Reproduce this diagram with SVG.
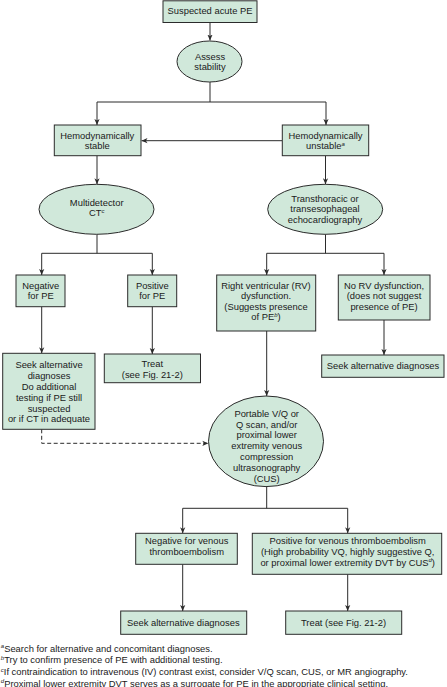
<svg xmlns="http://www.w3.org/2000/svg" width="447" height="687" viewBox="0 0 447 687">
<style>
.n{fill:#d0e8da;stroke:#2b2b2b;stroke-width:1}
text{font-family:"Liberation Sans",Arial,sans-serif;font-size:9.4px;fill:#1a1a1a}
.c{text-anchor:middle}
.s{font-size:6px;font-style:italic}
.e{fill:none;stroke:#2b2b2b;stroke-width:1}
.d{stroke-dasharray:4 2.5}
</style>
<defs>
<marker id="ah" markerWidth="6" markerHeight="6" viewBox="0 0 6 6" refX="6" refY="3" orient="auto" markerUnits="userSpaceOnUse">
<path d="M0,0.4 L6,3 L0,5.6 L1.6,3 Z" fill="#2b2b2b"/>
</marker>
</defs>
<rect width="447" height="687" fill="#fff"/>
<g id="connectors">
<path class="e" d="M210,22.5 V40.5" marker-end="url(#ah)"/>
<path class="e" d="M210,82 V102 M97,102 H326"/>
<path class="e" d="M97,102 V125" marker-end="url(#ah)"/>
<path class="e" d="M326,102 V125" marker-end="url(#ah)"/>
<path class="e" d="M282,140.7 H141.5" marker-end="url(#ah)"/>
<path class="e" d="M97,155.7 V184.3" marker-end="url(#ah)"/>
<path class="e" d="M325.5,155.7 V184.3" marker-end="url(#ah)"/>
<path class="e" d="M97,234.3 V253.3 M41.7,253.3 H152.3"/>
<path class="e" d="M41.7,253.3 V275" marker-end="url(#ah)"/>
<path class="e" d="M152.3,253.3 V275" marker-end="url(#ah)"/>
<path class="e" d="M325.5,234.3 V253.3 M266.7,253.3 H384"/>
<path class="e" d="M266.7,253.3 V275" marker-end="url(#ah)"/>
<path class="e" d="M384,253.3 V275" marker-end="url(#ah)"/>
<path class="e" d="M41.7,306.7 V353.3" marker-end="url(#ah)"/>
<path class="e" d="M152.3,306.7 V354" marker-end="url(#ah)"/>
<path class="e" d="M266.7,331 V396" marker-end="url(#ah)"/>
<path class="e" d="M384,320 V355" marker-end="url(#ah)"/>
<path class="e d" d="M41.7,429.3 V443.3 H208.3" marker-end="url(#ah)"/>
<path class="e" d="M266.7,486.7 V508.3 M182.7,508.3 H347.7"/>
<path class="e" d="M182.7,508.3 V533.3" marker-end="url(#ah)"/>
<path class="e" d="M347.7,508.3 V533.3" marker-end="url(#ah)"/>
<path class="e" d="M182.7,564.3 V611" marker-end="url(#ah)"/>
<path class="e" d="M347.7,574.3 V611" marker-end="url(#ah)"/>
</g>
<g id="n-suspected">
<rect class="n" x="163" y="0.8" width="94" height="21.7"/>
<text class="c" x="210" y="14.2">Suspected acute PE</text>
</g>
<g id="n-assess">
<ellipse class="n" cx="209.5" cy="61.5" rx="32.5" ry="20.5"/>
<text class="c" x="210" y="59.5">Assess</text>
<text class="c" x="210" y="70.1">stability</text>
</g>
<g id="n-stable">
<rect class="n" x="54.3" y="125" width="86.7" height="30.7"/>
<text class="c" x="97.3" y="138.5">Hemodynamically</text>
<text class="c" x="97.3" y="149.1">stable</text>
</g>
<g id="n-unstable">
<rect class="n" x="282.3" y="125" width="86.4" height="30.7"/>
<text class="c" x="325.5" y="138.5">Hemodynamically</text>
<text class="c" x="325.5" y="149.1">unstable<tspan class="s" dy="-3.5">a</tspan></text>
</g>
<g id="n-ct">
<ellipse class="n" cx="96.5" cy="209.3" rx="57.5" ry="25"/>
<text class="c" x="96.7" y="206">Multidetector</text>
<text class="c" x="96.7" y="216.4">CT<tspan class="s" dy="-3.5">c</tspan></text>
</g>
<g id="n-echo">
<ellipse class="n" cx="325.2" cy="209.3" rx="57.5" ry="25"/>
<text class="c" x="325" y="201.7">Transthoracic or</text>
<text class="c" x="325" y="212.2">transesophageal</text>
<text class="c" x="325" y="222.7">echocardiography</text>
</g>
<g id="n-negpe">
<rect class="n" x="16" y="275" width="49" height="31.7"/>
<text class="c" x="40.7" y="288.5">Negative</text>
<text class="c" x="40.7" y="299.1">for PE</text>
</g>
<g id="n-pospe">
<rect class="n" x="127.7" y="275" width="49" height="31.7"/>
<text class="c" x="152.3" y="288.5">Positive</text>
<text class="c" x="152.3" y="299.1">for PE</text>
</g>
<g id="n-rv">
<rect class="n" x="216.7" y="275" width="99" height="56"/>
<text class="c" x="266" y="288.5">Right ventricular (RV)</text>
<text class="c" x="266" y="299.1">dysfunction.</text>
<text class="c" x="266" y="309.7">(Suggests presence</text>
<text class="c" x="266" y="320.3">of PE<tspan class="s" dy="-3.5">b</tspan><tspan dy="3.5">)</tspan></text>
</g>
<g id="n-norv">
<rect class="n" x="338.3" y="275" width="91.7" height="45"/>
<text class="c" x="384" y="288.5">No RV dysfunction,</text>
<text class="c" x="384" y="299.1">(does not suggest</text>
<text class="c" x="384" y="309.7">presence of PE)</text>
</g>
<g id="n-seek1">
<rect class="n" x="2.7" y="353.3" width="92.3" height="76"/>
<text class="c" x="49" y="367.7">Seek alternative</text>
<text class="c" x="49" y="378.5">diagnoses</text>
<text class="c" x="49" y="389.6">Do additional</text>
<text class="c" x="49" y="400.6">testing if PE still</text>
<text class="c" x="49" y="411.5">suspected</text>
<text class="c" x="49" y="422.4">or if CT in adequate</text>
</g>
<g id="n-treat1">
<rect class="n" x="104.3" y="354" width="96.2" height="28.7"/>
<text class="c" x="152.3" y="367.4">Treat</text>
<text class="c" x="152.3" y="378">(see Fig. 21-2)</text>
</g>
<g id="n-seek2">
<rect class="n" x="321.7" y="355" width="122.3" height="22.3"/>
<text class="c" x="383" y="369.4">Seek alternative diagnoses</text>
</g>
<g id="n-vq">
<ellipse class="n" cx="266" cy="441.3" rx="57.5" ry="45.3"/>
<text class="c" x="266.7" y="416.7">Portable V/Q or</text>
<text class="c" x="266.7" y="427.6">Q scan, and/or</text>
<text class="c" x="266.7" y="438.4">proximal lower</text>
<text class="c" x="266.7" y="449.2">extremity venous</text>
<text class="c" x="266.7" y="460.1">compression</text>
<text class="c" x="266.7" y="471">ultrasonography</text>
<text class="c" x="266.7" y="481.8">(CUS)</text>
</g>
<g id="n-negvte">
<rect class="n" x="135.7" y="533.3" width="101.6" height="31"/>
<text class="c" x="186.7" y="544.4">Negative for venous</text>
<text class="c" x="186.7" y="555">thromboembolism</text>
</g>
<g id="n-posvte">
<rect class="n" x="252.3" y="533.3" width="189.4" height="41"/>
<text class="c" x="347.7" y="544.4">Positive for venous thromboembolism</text>
<text class="c" x="347.7" y="555">(High probability VQ, highly suggestive Q,</text>
<text class="c" x="347.7" y="565.6">or proximal lower extremity DVT by CUS<tspan class="s" dy="-3.5">d</tspan><tspan dy="3.5">)</tspan></text>
</g>
<g id="n-seek3">
<rect class="n" x="120.7" y="611" width="126" height="23.3"/>
<text class="c" x="183.3" y="625.7">Seek alternative diagnoses</text>
</g>
<g id="n-treat2">
<rect class="n" x="285.7" y="611" width="116" height="23.3"/>
<text class="c" x="343.5" y="625.7">Treat (see Fig. 21-2)</text>
</g>
<g id="footnotes">
<text x="0.8" y="651.6"><tspan class="s" dy="-3.5">a</tspan><tspan dy="3.5">Search for alternative and concomitant diagnoses.</tspan></text>
<text x="0.8" y="663.3"><tspan class="s" dy="-3.5">b</tspan><tspan dy="3.5">Try to confirm presence of PE with additional testing.</tspan></text>
<text x="0.8" y="675"><tspan class="s" dy="-3.5">c</tspan><tspan dy="3.5">If contraindication to intravenous (IV) contrast exist, consider V/Q scan, CUS, or MR angiography.</tspan></text>
<text x="0.8" y="686.5"><tspan class="s" dy="-3.5">d</tspan><tspan dy="3.5">Proximal lower extremity DVT serves as a surrogate for PE in the appropriate clinical setting.</tspan></text>
</g>
</svg>
